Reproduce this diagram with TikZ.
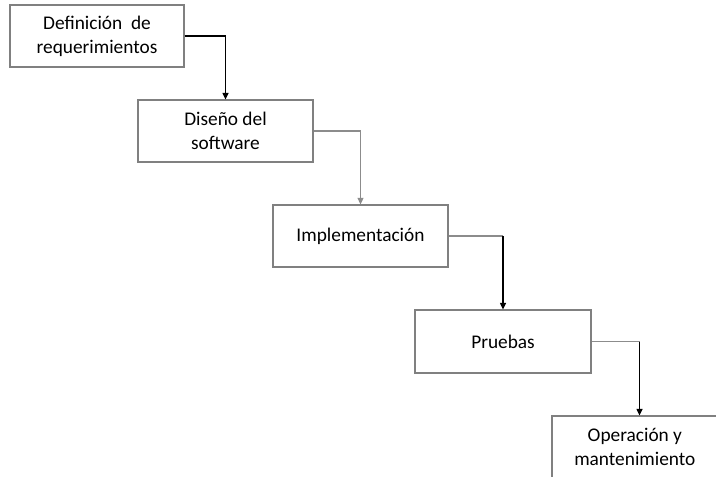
\documentclass[tikz,border=0pt]{standalone}
\usepackage{fontspec}
\setmainfont{Carlito}
\usetikzlibrary{arrows.meta}
\definecolor{boxgray}{RGB}{128,128,128}
\definecolor{linegray}{RGB}{140,140,140}
\tikzset{
  stage/.style={draw=boxgray, line width=0.8pt, fill=white, rectangle, align=center,
    minimum width=175*0.75pt, minimum height=62*0.75pt, inner sep=0pt,
    font=\fontsize{14.5}{18}\selectfont},
  darkline/.style={draw=black, line width=1.1pt},
  lightline/.style={draw=linegray, line width=0.9pt},
  tip/.style={-{Triangle[length=5pt,width=4.5pt]}}
}
\begin{document}
\begin{tikzpicture}[x=0.75pt,y=-0.75pt]
  \path[use as bounding box, clip] (0,0) rectangle (716,477);
  \fill[white] (0,0) rectangle (716,477);

  \node[stage, minimum width=174*0.75pt] (s1) at (97,36) {Definición\ \ de\\requerimientos};
  \node[stage] (s2) at (225.5,131) {Diseño del\\software};
  \node[stage] (s3) at (360.5,236) {Implementación};
  \node[stage, minimum width=176*0.75pt, minimum height=63*0.75pt] (s4) at (503,341.5) {Pruebas};
  \node[stage] (s5) at (639.5,447) {\hspace*{-7pt}Operación y\\\hspace*{-7pt}mantenimiento};

  \coordinate (c1) at (s1.east -| s2.north);
  \coordinate (c2) at (s2.east -| s3.north);
  \coordinate (c3) at (s3.east -| s4.north);
  \coordinate (c4) at (s4.east -| s5.north);

  \draw[darkline] (s1.east) -- (c1);
  \draw[darkline, tip] (c1) -- (s2.north);

  \draw[lightline] (s2.east) -- (c2);
  \draw[lightline, tip] (c2) -- (s3.north);

  \draw[lightline] (s3.east) -- (c3);
  \draw[darkline, tip] (c3) -- (s4.north);

  \draw[lightline] (s4.east) -- (c4);
  \draw[darkline, tip] (c4) -- (s5.north);
\end{tikzpicture}
\end{document}
